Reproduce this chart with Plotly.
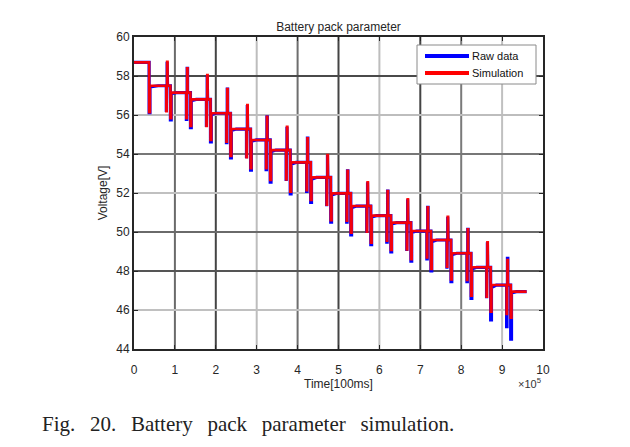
import plotly.graph_objects as go

# ---------------- data (x in units of 1e5 x 100 ms, y in V) ----------------
plateau = [58.70, 57.50, 57.15, 56.80, 56.09, 55.28, 54.72, 54.20, 53.57, 52.80,
           51.98, 51.33, 50.84, 50.48, 50.05, 49.59, 48.91, 48.19, 47.28, 46.94]
step_end = [0.37, 0.81, 1.30, 1.79, 2.28, 2.77, 3.25, 3.74, 4.24, 4.73,
            5.22, 5.71, 6.20, 6.69, 7.18, 7.67, 8.16, 8.64, 9.13, 9.60]

sim_up = [None, 58.73, 58.39, 58.05, 57.33, 56.51, 55.91, 55.40, 54.81, 53.95,
          53.14, 52.55, 52.10, 51.68, 51.27, 50.78, 50.14, 49.47, 48.56]
sim_dip1 = [56.15, 56.20, 55.83, 55.44, 54.63, 53.83, 53.27, 52.70, 52.15, 51.40,
            50.58, 50.02, 49.55, 49.11, 48.70, 48.22, 47.54, 46.68, 45.80]
sim_dip2 = [None, 55.84, 55.44, 54.72, 53.90, 53.27, 52.67, 52.07, 51.64, 50.60,
            49.96, 49.45, 49.08, 48.60, 48.10, 47.57, 46.73, 45.91, 45.60]

raw_up = [None, 58.73, 58.39, 58.05, 57.33, 56.51, 55.91, 55.40, 54.81, 53.95,
          53.14, 52.55, 52.10, 51.68, 51.27, 50.78, 50.14, 49.47, 48.65]
raw_dip1 = [56.12, 56.15, 55.78, 55.38, 54.58, 53.78, 53.20, 52.62, 52.08, 51.32,
            50.50, 49.95, 49.48, 49.03, 48.62, 48.12, 47.45, 46.60, 45.15]
raw_dip2 = [None, 55.75, 55.35, 54.62, 53.80, 53.17, 52.56, 51.95, 51.52, 50.50,
            49.85, 49.35, 48.98, 48.50, 48.00, 47.45, 46.60, 45.49, 44.50]
raw_rest_start = [None, 57.44, 57.09, 56.73, 56.01, 55.20, 54.65, 54.12, 53.48, 52.71,
                  51.90, 51.25, 50.77, 50.41, 49.97, 49.50, 48.83, 48.10, 47.15, 46.88]

x_ticks = [0, 1, 2, 3, 4, 5, 6, 7, 8, 9, 10]
y_ticks = [44, 46, 48, 50, 52, 54, 56, 58, 60]

# grid line shades (as rendered in the reference image)
xgrid_vals = [1, 2, 3, 4, 5, 6, 7, 8, 9]
xgrid_cols = ["#6a6a6a", "#444444", "#bdbdbd", "#6e6e6e", "#444444",
              "#bdbdbd", "#444444", "#7a7a7a", "#c0c0c0"]
ygrid_vals = [46, 48, 50, 52, 54, 56, 58]
ygrid_cols = ["#c0c0c0", "#555555", "#6a6a6a", "#c0c0c0", "#777777", "#bdbdbd", "#4a4a4a"]


def build(up, d1, d2, rest=None):
    xs, ys = [0.0], [plateau[0]]
    for i in range(len(d1)):
        e = step_end[i]
        L = plateau[i]
        N = plateau[i + 1]
        start_next = rest[i + 1] if rest is not None else N
        if up[i] is None:
            xs += [e, e, e + 0.02, e + 0.02]
            ys += [L, d1[i], d1[i], start_next]
        else:
            xs += [e - 0.02, e - 0.02, e - 0.01, e - 0.01, e, e, e + 0.01, e + 0.01,
                   e + 0.08, e + 0.08, e + 0.10, e + 0.10]
            ys += [L, d1[i], d1[i], L, L, up[i], up[i], L, L, d2[i], d2[i], start_next]
        if rest is not None:
            xs += [e + 0.22]
            ys += [N]
    xs += [step_end[-1]]
    ys += [plateau[-1]]
    return xs, ys


rx, ry = build(raw_up, raw_dip1, raw_dip2, raw_rest_start)
sx, sy = build(sim_up, sim_dip1, sim_dip2)

# page body has an 8 px margin: plot area 134..543 x 37..349 in the window
W, H = 622, 439
PL, PR, PT, PB = 126, 535, 29, 341
pw, ph = PR - PL, PB - PT


def px(xw):
    return (xw - 8 - PL) / pw


def py(yw):
    return (PB - (yw - 8)) / ph


fig = go.Figure()
fig.add_trace(go.Scatter(x=rx, y=ry, mode="lines", name="Raw data",
                         line=dict(color="#0000ff", width=3.2), showlegend=False))
fig.add_trace(go.Scatter(x=sx, y=sy, mode="lines", name="Simulation",
                         line=dict(color="#ff0000", width=2.6), opacity=0.95,
                         showlegend=False))

shapes = []
for v, c in zip(xgrid_vals, xgrid_cols):
    shapes.append(dict(type="line", xref="x", yref="y", x0=v, x1=v, y0=44, y1=60,
                       line=dict(color=c, width=2), layer="below"))
for v, c in zip(ygrid_vals, ygrid_cols):
    shapes.append(dict(type="line", xref="x", yref="y", x0=0, x1=10, y0=v, y1=v,
                       line=dict(color=c, width=2), layer="below"))

# legend box (MATLAB style)
shapes.append(dict(type="rect", xref="paper", yref="paper",
                   x0=px(417), x1=px(536), y0=py(84), y1=py(45),
                   fillcolor="white", line=dict(color="#8a8a8a", width=1), layer="above"))
shapes.append(dict(type="line", xref="paper", yref="paper",
                   x0=px(425), x1=px(469), y0=py(56), y1=py(56),
                   line=dict(color="#0000ff", width=4)))
shapes.append(dict(type="line", xref="paper", yref="paper",
                   x0=px(425), x1=px(469), y0=py(73), y1=py(73),
                   line=dict(color="#ff0000", width=4)))

sans = "Liberation Sans, Arial"
gap = "\u00a0\u2009 "
annotations = [
    dict(text="Raw data", xref="paper", yref="paper", x=px(470), y=py(56),
         xanchor="left", yanchor="middle", showarrow=False,
         font=dict(family=sans, size=11, color="#111111")),
    dict(text="Simulation", xref="paper", yref="paper", x=px(470), y=py(73),
         xanchor="left", yanchor="middle", showarrow=False,
         font=dict(family=sans, size=11, color="#111111")),
    dict(text="×10<sup>5</sup>", xref="paper", yref="paper", x=px(543), y=py(383),
         xanchor="right", yanchor="middle", showarrow=False,
         font=dict(family=sans, size=11, color="#333333")),
    dict(text="Fig." + gap + "20." + gap + "Battery" + gap + "pack" + gap + "parameter"
         + gap + "simulation.",
         xref="paper", yref="paper", x=px(40), y=py(424),
         xanchor="left", yanchor="middle", showarrow=False,
         font=dict(family="Liberation Serif, Times New Roman", size=21, color="#222222")),
]

axis_font = dict(family=sans, size=12, color="#262626")
fig.update_layout(
    width=W, height=H,
    margin=dict(l=PL, r=W - PR, t=PT, b=H - PB),
    paper_bgcolor="white", plot_bgcolor="white",
    title=dict(text="Battery pack parameter", x=((134 + 543) / 2 - 8) / W, xanchor="center",
               y=1 - (27 - 8) / H, yanchor="middle",
               font=dict(family=sans, size=12, color="#262626")),
    xaxis=dict(range=[0, 10], tickvals=x_ticks, ticktext=[str(t) for t in x_ticks],
               showgrid=False, zeroline=False, showline=True, mirror="ticks",
               linecolor="#262626", linewidth=2, ticks="inside", ticklen=4,
               tickcolor="#262626", tickwidth=1, tickfont=axis_font, automargin=False,
               ticklabelstandoff=9,
               title=dict(text="Time[100ms]", font=axis_font, standoff=0)),
    yaxis=dict(range=[44, 60], tickvals=y_ticks, ticktext=[str(t) for t in y_ticks],
               showgrid=False, zeroline=False, showline=True, mirror="ticks",
               linecolor="#262626", linewidth=2, ticks="inside", ticklen=4,
               tickcolor="#262626", tickwidth=1, tickfont=axis_font, automargin=False,
               title=dict(text="Voltage[V]", font=axis_font, standoff=6)),
    shapes=shapes, annotations=annotations, showlegend=False,
)

fig.write_html("out.html")
